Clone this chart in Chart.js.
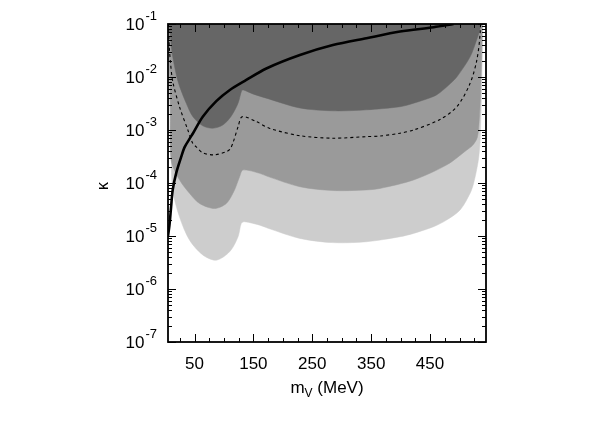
<!DOCTYPE html>
<html>
<head>
<meta charset="utf-8">
<script src="https://cdn.jsdelivr.net/npm/chart.js@4/dist/chart.umd.min.js"></script>
<style>
html,body{margin:0;padding:0;background:#fff;}
#wrap{width:606px;height:425px;position:relative;}
</style>
</head>
<body>
<div id="wrap"><canvas id="c"></canvas></div>
<script>
// ---- data (m_V in MeV, kappa) ----
const lightMass  = [5.5, 8, 10, 13, 24.5, 41.5, 64, 87, 110, 124, 129.5, 135, 161, 175, 229, 285, 342, 399, 422, 456, 478, 501, 518, 524, 532, 535, 538, 541];
const lightKappa = [1, 3.2e-3, 4.0e-4, 7.4e-5, 2.3e-5, 8.4e-6, 4.4e-6, 3.5e-6, 5.1e-6, 9.7e-6, 1.74e-5, 1.86e-5, 1.6e-5, 1.4e-5, 9.0e-6, 7.5e-6, 7.8e-6, 9.7e-6, 1.12e-5, 1.5e-5, 2.0e-5, 3.1e-5, 6.4e-5, 9.9e-5, 2.7e-4, 6.5e-4, 1e-2, 1];

const mediumMass  = [5, 7, 9, 10.3, 24.5, 41.5, 58.6, 84, 104, 118, 126.6, 132.3, 160.7, 175, 229, 285, 342, 365, 422, 478.5, 512.5, 522, 530, 533, 535.5, 537.5, 539];
const mediumKappa = [1, 3.2e-2, 2.5e-3, 2.7e-4, 1.15e-4, 6.4e-5, 4.1e-5, 3.3e-5, 4.1e-5, 7.4e-5, 1.31e-4, 1.76e-4, 1.52e-4, 1.32e-4, 8.5e-5, 7.2e-5, 7.4e-5, 7.9e-5, 1.14e-4, 2.2e-4, 4.2e-4, 5.1e-4, 7.1e-4, 1.26e-3, 4.0e-3, 2.5e-2, 0.16];

const darkMass  = [5, 7, 10, 13, 20, 25, 36, 47, 64, 81, 98, 112, 124, 130, 133, 149, 175, 229, 285, 342, 399, 422, 456, 467, 485, 496, 518, 529, 535, 538];
const darkKappa = [0.3, 0.12, 0.045, 0.024, 0.01, 0.0065, 0.0032, 0.0018, 0.0012, 0.00108, 0.00124, 0.0018, 0.0032, 0.0055, 0.0057, 0.0048, 0.0039, 0.0026, 0.0023, 0.0024, 0.00275, 0.0032, 0.0043, 0.0051, 0.0076, 0.0102, 0.024, 0.05, 0.083, 0.3];

const dashedMass  = [6, 7, 9, 13, 24.5, 38.7, 47, 53, 64, 84, 104, 110, 115, 124, 131, 155, 178, 229, 285, 342, 365, 399, 422, 467, 496, 518, 529.5, 535, 537];
const dashedKappa = [0.1, 0.04, 0.02, 8.3e-3, 2.75e-3, 1.0e-3, 5.6e-4, 4.8e-4, 3.7e-4, 3.4e-4, 3.9e-4, 4.3e-4, 5.6e-4, 1.15e-3, 1.78e-3, 1.44e-3, 1.07e-3, 7.8e-4, 7.0e-4, 7.5e-4, 7.7e-4, 8.7e-4, 1.0e-3, 1.58e-3, 2.8e-3, 7.6e-3, 2.1e-2, 6.6e-2, 0.3];

const lineMass  = [5, 7.5, 10.3, 13, 18.8, 27.4, 33, 41.5, 47, 64, 87, 110, 138, 172, 229, 285, 342, 399, 456, 490];
const lineKappa = [1.0e-5, 1.6e-5, 3.6e-5, 7.4e-5, 1.52e-4, 3.1e-4, 4.7e-4, 6.8e-4, 8.5e-4, 1.78e-3, 3.5e-3, 5.7e-3, 8.8e-3, 1.45e-2, 2.6e-2, 4.0e-2, 5.4e-2, 7.2e-2, 8.7e-2, 0.1];

// ---- axes ----
const xMin = 5, xMax = 545;
const yMin = 1e-7, yMax = 1e-1;
const xTickValues = [50, 150, 250, 350, 450];
const xTickLabels = ['50', '150', '250', '350', '450'];
const xMinorValues = [25, 50, 75, 100, 125, 150, 175, 200, 225, 250, 275, 300, 325, 350, 375, 400, 425, 450, 475, 500, 525];
const yTickValues = [1e-7, 1e-6, 1e-5, 1e-4, 1e-3, 1e-2, 1e-1];
const yTickBases = ['10', '10', '10', '10', '10', '10', '10'];
const yTickExps = ['-7', '-6', '-5', '-4', '-3', '-2', '-1'];
const yMinorMultipliers = [2, 3, 4, 5, 6, 7, 8, 9];
const xTitleMain = 'm', xTitleSub = 'V', xTitleRest = ' (MeV)';
const yTitle = 'κ';

const pts = (xs, ys) => xs.map((v, i) => ({x: v, y: ys[i]}));
const FONT = "'Liberation Sans', Arial, Helvetica, sans-serif";

const framePlugin = {
  id: 'frame',
  afterDraw(chart) {
    const {ctx, chartArea: a} = chart;
    const xs = chart.scales.x, ys = chart.scales.y;
    ctx.save();
    ctx.strokeStyle = '#000';
    ctx.lineWidth = 1;
    ctx.beginPath();
    xMinorValues.forEach(v => {
      const px = Math.round(xs.getPixelForValue(v)) + 0.5;
      const len = xTickValues.includes(v) ? 8 : 4;
      ctx.moveTo(px, a.bottom); ctx.lineTo(px, a.bottom - len);
      ctx.moveTo(px, a.top); ctx.lineTo(px, a.top + len);
    });
    yTickValues.forEach((d, i) => {
      const py = Math.round(ys.getPixelForValue(d)) + 0.5;
      ctx.moveTo(a.left, py); ctx.lineTo(a.left + 8, py);
      ctx.moveTo(a.right, py); ctx.lineTo(a.right - 8, py);
      if (i < yTickValues.length - 1) {
        yMinorMultipliers.forEach(k => {
          const q = Math.round(ys.getPixelForValue(k * d)) + 0.5;
          ctx.moveTo(a.left, q); ctx.lineTo(a.left + 4, q);
          ctx.moveTo(a.right, q); ctx.lineTo(a.right - 4, q);
        });
      }
    });
    ctx.stroke();
    ctx.lineWidth = 1.8;
    ctx.strokeRect(a.left, a.top, a.right - a.left, a.bottom - a.top);

    ctx.fillStyle = '#000';
    ctx.textBaseline = 'alphabetic';
    // x tick labels
    ctx.font = '17px ' + FONT;
    ctx.textAlign = 'center';
    xTickValues.forEach((v, i) => {
      ctx.fillText(xTickLabels[i], xs.getPixelForValue(v), a.bottom + 27);
    });
    // y tick labels 10^n
    const rightEdge = a.left - 11;
    yTickValues.forEach((d, i) => {
      const py = ys.getPixelForValue(d);
      ctx.font = '13px ' + FONT;
      ctx.textAlign = 'right';
      const ew = ctx.measureText(yTickExps[i]).width;
      ctx.fillText(yTickExps[i], rightEdge, py - 4);
      ctx.font = '17px ' + FONT;
      ctx.fillText(yTickBases[i], rightEdge - ew - 1, py + 5.5);
    });
    // x title with subscript
    ctx.textAlign = 'left';
    ctx.font = '17px ' + FONT;
    const w1 = ctx.measureText(xTitleMain).width;
    const w3 = ctx.measureText(xTitleRest).width;
    ctx.font = '12px ' + FONT;
    const w2 = ctx.measureText(xTitleSub).width;
    const cx = (a.left + a.right) / 2;
    let sx = cx - (w1 + w2 + w3) / 2;
    const base = a.bottom + 51;
    ctx.font = '17px ' + FONT;
    ctx.fillText(xTitleMain, sx, base);
    ctx.font = '12px ' + FONT;
    ctx.fillText(xTitleSub, sx + w1, base + 4);
    ctx.font = '17px ' + FONT;
    ctx.fillText(xTitleRest, sx + w1 + w2, base);
    // y title (rotated)
    ctx.save();
    ctx.translate(a.left - 64, (a.top + a.bottom) / 2 + 3);
    ctx.rotate(-Math.PI / 2);
    ctx.textAlign = 'center';
    ctx.textBaseline = 'middle';
    ctx.font = '16px ' + FONT;
    ctx.fillText(yTitle, 0, 0);
    ctx.restore();
    ctx.restore();
  }
};

const T = 0.3;
new Chart(document.getElementById('c'), {
  type: 'line',
  data: {
    datasets: [
      {label: 'curve', data: pts(lineMass, lineKappa), borderColor: '#000', borderWidth: 2.6, pointRadius: 0, fill: false, order: 0, tension: T},
      {label: 'dashed', data: pts(dashedMass, dashedKappa), borderColor: '#000', borderWidth: 1.1, borderDash: [3, 3], pointRadius: 0, fill: false, order: 1, tension: T},
      {label: 'dark', data: pts(darkMass, darkKappa), borderColor: '#666666', backgroundColor: '#666666', borderWidth: 0.5, pointRadius: 0, fill: 'end', order: 2, tension: T},
      {label: 'medium', data: pts(mediumMass, mediumKappa), borderColor: '#9a9a9a', backgroundColor: '#9a9a9a', borderWidth: 0.5, pointRadius: 0, fill: 'end', order: 3, tension: T},
      {label: 'light', data: pts(lightMass, lightKappa), borderColor: '#cdcdcd', backgroundColor: '#cdcdcd', borderWidth: 0.5, pointRadius: 0, fill: 'end', order: 4, tension: T}
    ]
  },
  options: {
    responsive: true,
    maintainAspectRatio: false,
    animation: false,
    events: [],
    layout: {padding: {left: 168, right: 120, top: 24, bottom: 83}},
    scales: {
      x: {type: 'linear', min: xMin, max: xMax, display: false},
      y: {type: 'logarithmic', min: yMin, max: yMax, display: false}
    },
    plugins: {legend: {display: false}, tooltip: {enabled: false}}
  },
  plugins: [framePlugin]
});
</script>
</body>
</html>
